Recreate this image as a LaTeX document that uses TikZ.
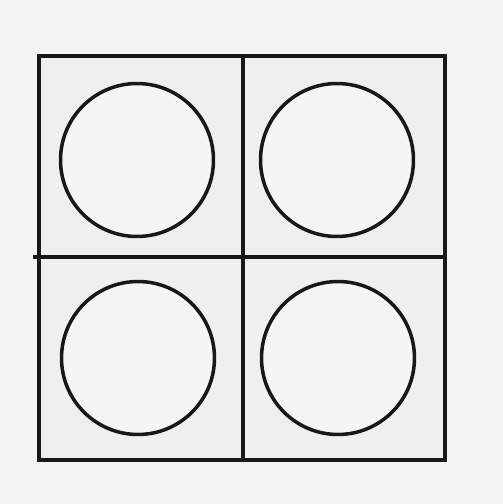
\documentclass[tikz,border=0pt]{standalone}
\usetikzlibrary{positioning}
\definecolor{PanInk}{RGB}{24,24,24}
\definecolor{PanPaper}{RGB}{243,243,243}
\definecolor{PanCell}{RGB}{239,239,239}
\definecolor{PanHole}{RGB}{245,245,245}
\tikzset{
  pan/frame/.style={draw=PanInk, line width=2.2pt},
  pan/ring/.style={
    circle,
    draw=PanInk,
    line width=2pt,
    fill=PanHole,
    minimum size=3.06cm,
    inner sep=0pt
  }
}
\begin{document}
\begin{tikzpicture}[x=0.02cm,y=-0.02cm]
  \fill[PanPaper] (0,0) rectangle (503,504);
  \useasboundingbox (0,0) rectangle (503,504);
  \fill[PanCell] (39,56) rectangle (445,460);
  \draw[pan/frame] (39,56) rectangle (445,460);
  \draw[pan/frame] (243,56) -- (243,460);
  \draw[pan/frame] (33,257) -- (445,257);
  \foreach \nm/\x/\y in {nw/137/160,ne/337/160,sw/138/358,se/338/358}
  {\node[pan/ring] (\nm) at (\x,\y) {};}
\end{tikzpicture}
\end{document}
